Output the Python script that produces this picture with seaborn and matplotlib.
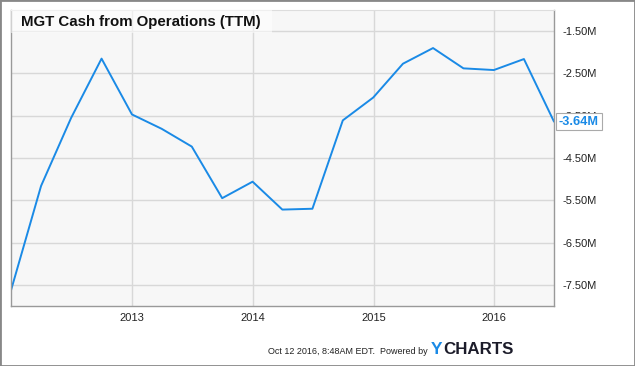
import pandas as pd
import matplotlib.pyplot as plt
import matplotlib.ticker as mticker
from matplotlib.patches import Rectangle
import seaborn as sns

# quarterly TTM cash from operations, millions
quarters = pd.date_range('2011-12-31', periods=19, freq='QE')
cash_ops = [-7.63, -5.16, -3.55, -2.15, -3.47, -3.81, -4.23, -5.45, -5.06, -5.72,
            -5.70, -3.61, -3.07, -2.27, -1.90, -2.38, -2.42, -2.16, -3.64]
y_ticks = [-1.5, -2.5, -3.5, -4.5, -5.5, -6.5, -7.5]
x_ticks = pd.to_datetime(['2013-01-01', '2014-01-01', '2015-01-01', '2016-01-01'])
x_labels = ['2013', '2014', '2015', '2016']

df = pd.DataFrame({'date': quarters, 'value': cash_ops})

sns.set_style('whitegrid')
plt.rcParams['font.family'] = ['Liberation Sans', 'DejaVu Sans']

blue = '#1a8ae6'
fig = plt.figure(figsize=(6.35, 3.66), dpi=100)
ax = fig.add_axes([11 / 635, 1 - 306 / 366, 543 / 635, 296 / 366])
ax.set_facecolor('#f7f7f7')

sns.lineplot(data=df, x='date', y='value', ax=ax, color=blue, linewidth=1.4)

ax.set_xlim(quarters[0], quarters[-1])
ax.set_ylim(-8, -1)
ax.set_xticks(x_ticks)
ax.set_xticklabels(x_labels)
ax.set_yticks(y_ticks)
ax.yaxis.set_major_formatter(mticker.FuncFormatter(lambda v, p: f'{v:.2f}M'))
ax.yaxis.tick_right()
ax.tick_params(axis='y', length=0, pad=6, labelsize=8, labelcolor='#222222')
ax.tick_params(axis='x', length=0, pad=5, labelsize=8, labelcolor='#222222')
ax.grid(True, color='#d8d8d8', linewidth=1)
ax.set_xlabel('')
ax.set_ylabel('')
for side in ['left', 'right', 'bottom']:
    ax.spines[side].set_color('#999999')
    ax.spines[side].set_linewidth(1)
ax.spines['top'].set_color('#dddddd')

# title box
ax.add_patch(Rectangle((0, 0.922), 0.4807, 0.078, transform=ax.transAxes,
                       facecolor='white', alpha=0.55, edgecolor='none', zorder=3))
ax.text(0.0184, 0.961, 'MGT Cash from Operations (TTM)', transform=ax.transAxes,
        fontsize=10.8, fontweight='bold', color='#111111', va='center', ha='left', zorder=4)

# last value label
ax.annotate(f'{cash_ops[-1]:.2f}M', xy=(quarters[-1], cash_ops[-1]), xytext=(3.5, 0),
            textcoords='offset points', ha='left', va='center', fontsize=9.2,
            fontweight='bold', color=blue, annotation_clip=False, zorder=5,
            bbox=dict(boxstyle='square,pad=0.22', fc='white', ec='#aaaaaa', lw=0.8))

# footer
fig.text(428 / 635, 1 - 352 / 366, 'Oct 12 2016, 8:48AM EDT.  Powered by', ha='right',
         va='center', fontsize=6.5, color='#222222')
fig.text(431 / 635, 1 - 350 / 366, 'Y', ha='left', va='center', fontsize=12.5,
         fontweight='bold', color=blue)
fig.text(443 / 635, 1 - 350 / 366, 'CHARTS', ha='left', va='center', fontsize=12.2,
         fontweight='bold', color='#1c1c2a')

fig.add_artist(Rectangle((0, 0), 1, 1, transform=fig.transFigure, fill=False,
                         edgecolor='#888888', linewidth=2))

fig.savefig('out.png', dpi=100, facecolor='white')
